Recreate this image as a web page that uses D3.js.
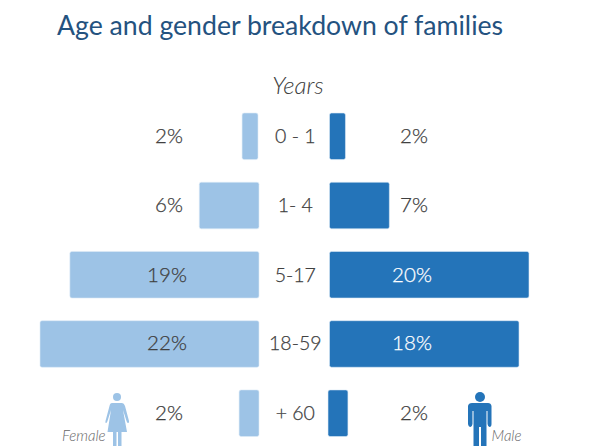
<!DOCTYPE html>
<html><head><meta charset="utf-8">
<script src="https://cdn.jsdelivr.net/npm/d3@7/dist/d3.min.js"></script>
<style>html,body{margin:0;padding:0;background:#fff;overflow:hidden}svg{display:block}text{font-family:Lato,"Open Sans",sans-serif}</style>
</head><body>
<svg id="c" width="592" height="446"></svg>
<script>
const ageGroups = ["0 - 1","1- 4","5-17","18-59","+ 60"];
const femaleValues = [1.6,6,19,22,2];
const maleValues = [1.6,6,20,19,2];
const femaleLabels = ["2%","6%","19%","22%","2%"];
const maleLabels = ["2%","7%","20%","18%","2%"];
const titleText = "Age and gender breakdown of families";
const axisTitle = "Years";

const svg = d3.select("#c");
const y = d3.scaleBand().domain(ageGroups).range([113,436.5]).paddingInner(0.327).paddingOuter(0);
const xF = d3.scaleLinear().domain([0,22]).range([259,40]);
const xM = d3.scaleLinear().domain([0,20]).range([329.5,529]);
const nudge = g => g === "+ 60" ? -1.5 : 0;
const fNudge = g => g === "0 - 1" ? -1 : 0;
const textNudge = g => g === "1- 4" || g === "18-59" ? -1 : 0;

svg.append("text").attr("x",57).attr("y",35).attr("font-size",26.65).attr("fill","#24527f").text(titleText);
svg.append("text").attr("x",298).attr("y",94).attr("text-anchor","middle").attr("font-size",24).attr("font-style","italic").attr("font-weight",300).attr("fill","#404040").text(axisTitle);

const rows = ageGroups.map((g,i)=>({g,f:femaleValues[i],m:maleValues[i],fl:femaleLabels[i],ml:maleLabels[i]}));
const row = svg.selectAll("g.row").data(rows).join("g").attr("class","row");
row.append("rect").attr("x",d=>xF(d.f)+fNudge(d.g)).attr("y",d=>y(d.g)).attr("width",d=>xF(0)-xF(d.f)).attr("height",y.bandwidth()).attr("rx",2).attr("fill","#9dc3e6").attr("stroke","#deebf7").attr("stroke-width",0.6);
row.append("rect").attr("x",d=>xM(0)+nudge(d.g)).attr("y",d=>y(d.g)).attr("width",d=>xM(d.m)-xM(0)).attr("height",y.bandwidth()).attr("rx",2).attr("fill","#2474b9").attr("stroke","#deebf7").attr("stroke-width",0.6);

const base = d => y(d.g)+y.bandwidth()/2+7+textNudge(d.g);
const labelStyle = s => s.attr("text-anchor","middle").attr("font-size",20.5).attr("font-weight",300).attr("stroke-width",0.25);
row.append("text").attr("x",d=>d.f>=15?167:169).attr("y",base).call(labelStyle).attr("fill","#404040").attr("stroke","#404040").text(d=>d.fl);
row.append("text").attr("x",d=>d.m>=15?412:414).attr("y",base).call(labelStyle).attr("fill",d=>d.m>=15?"#ffffff":"#404040").attr("stroke",d=>d.m>=15?"#ffffff":"#404040").text(d=>d.ml);
row.append("text").attr("x",295.3).attr("y",base).call(labelStyle).attr("font-size",19.5).attr("fill","#404040").attr("stroke","#404040").text(d=>d.g);

const fem = svg.append("g").attr("fill","#9dc3e6");
fem.append("circle").attr("cx",117).attr("cy",397).attr("r",4);
fem.append("path").attr("d","M112 403 H122 Q124 403 125 406 L129 421 Q129.5 423 128 423 Q127 423 126.5 421 L123 410 L127 432 H121.5 V446 H118 V432 H116.5 V446 H113 V432 H107.5 L111 410 L107.5 421 Q107 423 106 423 Q105 423 105.5 421 L109.5 406 Q110 403 112 403 Z");
const mal = svg.append("g").attr("fill","#2474b9");
mal.append("circle").attr("cx",480).attr("cy",397).attr("r",5);
mal.append("path").attr("d","M472 403 H488 Q491 403 491.5 406 V424 Q491.5 427 489.5 427 Q488 427 487.5 424 V411 H486.5 V446 H481 V427 H479 V446 H473.5 V411 H472.5 V424 Q472 427 470.5 427 Q468.5 427 468 424 V406 Q468.5 403 472 403 Z");

svg.append("text").attr("x",62).attr("y",441).attr("font-size",15).attr("font-style","italic").attr("font-weight",300).attr("fill","#666").text("Female");
svg.append("text").attr("x",491.5).attr("y",441).attr("font-size",15).attr("font-style","italic").attr("font-weight",300).attr("fill","#666").text("Male");
</script>
</body></html>
